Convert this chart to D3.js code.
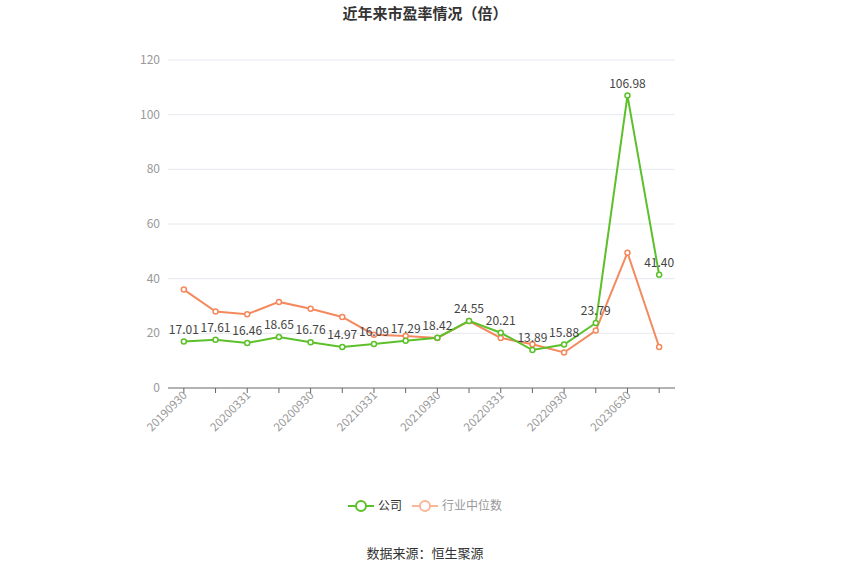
<!DOCTYPE html>
<html><head><meta charset="utf-8">
<script src="https://cdn.jsdelivr.net/npm/d3@7"></script>
<style>body{margin:0;background:#fff;font-family:"Noto Sans CJK SC","Noto Sans",sans-serif}</style>
</head><body><svg id="c" width="850" height="575"></svg>
<script>
const categories=["20190930","20191231","20200331","20200630","20200930","20201231","20210331","20210630","20210930","20211231","20220331","20220630","20220930","20221231","20230630","20230930"];
const company=[17.01,17.61,16.46,18.65,16.76,14.97,16.09,17.29,18.42,24.55,20.21,13.89,15.88,23.79,106.98,41.40];
const industry=[36,28,27,31.5,29,26,19.5,19,18.3,24.5,18.3,16,13,21,49.5,15];
const yTicks=[0,20,40,60,80,100,120];
const svg=d3.select("#c");
const L=168,R=675,T=60,B=388;
const x=d3.scaleBand().domain(categories).range([L,R]);
const cx=d=>x(d)+x.bandwidth()/2;
const y=d3.scaleLinear().domain([0,120]).range([B,T]);
svg.append("text").attr("x",425).attr("y",19).attr("text-anchor","middle").attr("font-size",15).attr("font-weight","bold").attr("fill","#333").text("近年来市盈率情况（倍）");
const g=svg.append("g");
yTicks.forEach(t=>{
 if(t>0)g.append("line").attr("x1",L).attr("x2",R).attr("y1",y(t)).attr("y2",y(t)).attr("stroke","#e6e8ee");
 g.append("text").attr("x",160).attr("y",y(t)+4).attr("text-anchor","end").attr("font-size",12).attr("fill","#999").text(t);
});
g.append("line").attr("x1",L).attr("x2",R).attr("y1",B).attr("y2",B).attr("stroke","#666");
categories.forEach((c,i)=>{
 g.append("line").attr("x1",cx(c)).attr("x2",cx(c)).attr("y1",B).attr("y2",B+5).attr("stroke","#666");
 if(i%2==0)g.append("text").attr("transform",`translate(${cx(c)+4},${B+8}) rotate(-45)`).attr("text-anchor","end").attr("font-size",11.5).attr("fill","#999").text(c);
});
function series(vals,col){
 const line=d3.line().x((d,i)=>cx(categories[i])).y(d=>y(d));
 g.append("path").attr("d",line(vals)).attr("fill","none").attr("stroke",col).attr("stroke-width",2);
 vals.forEach((v,i)=>g.append("circle").attr("cx",cx(categories[i])).attr("cy",y(v)).attr("r",2.5).attr("fill","#fff").attr("stroke",col).attr("stroke-width",1.5));
}
series(industry,"#f5895e");
series(company,"#5cc02a");
company.forEach((v,i)=>g.append("text").attr("x",cx(categories[i])).attr("y",y(v)-8).attr("text-anchor","middle").attr("font-size",12).attr("fill","#444").text(v.toFixed(2)));
const lg=svg.append("g");
lg.append("line").attr("x1",348).attr("x2",374).attr("y1",506).attr("y2",506).attr("stroke","#5cc02a").attr("stroke-width",2);
lg.append("circle").attr("cx",361).attr("cy",506).attr("r",5).attr("fill","#fff").attr("stroke","#5cc02a").attr("stroke-width",2);
lg.append("text").attr("x",378).attr("y",510).attr("font-size",12).attr("fill","#333").text("公司");
lg.append("line").attr("x1",412).attr("x2",438).attr("y1",506).attr("y2",506).attr("stroke","#f9b79a").attr("stroke-width",2);
lg.append("circle").attr("cx",425).attr("cy",506).attr("r",5).attr("fill","#fff").attr("stroke","#f9b79a").attr("stroke-width",2);
lg.append("text").attr("x",442).attr("y",510).attr("font-size",12).attr("fill","#999").text("行业中位数");
svg.append("text").attr("x",425).attr("y",558).attr("text-anchor","middle").attr("font-size",13).attr("fill","#333").text("数据来源：恒生聚源");
</script></body></html>
